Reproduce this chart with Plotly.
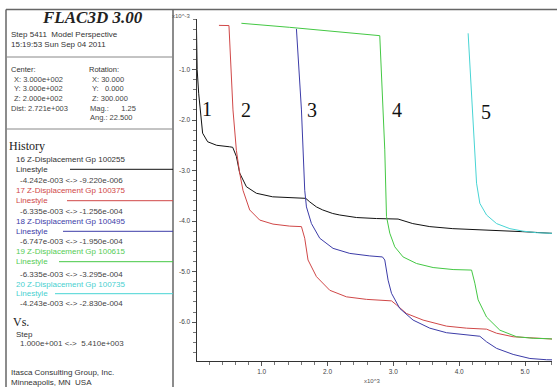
import plotly.graph_objects as go

W, H = 557, 387

# ---------------- data (steps, z-displacement in 1e-3 units) ----------------
gp1_step = [10, 20, 43, 84, 103, 179, 316, 514, 560, 616, 666, 768, 920, 1167, 1426, 1669, 1730,
            1832, 1927, 2079, 2186, 2440, 2744, 2946, 3072, 3295, 3402, 3554, 3903, 4314, 4720,
            4967, 5378, 5410]
gp1_disp = [-0.2, -1.0, -1.47, -2.0, -2.26, -2.43, -2.5, -2.53, -2.54, -2.72, -3.05, -3.32, -3.45,
            -3.52, -3.54, -3.55, -3.62, -3.72, -3.78, -3.85, -3.88, -3.93, -3.95, -3.95, -3.96,
            -4.05, -4.08, -4.11, -4.15, -4.17, -4.19, -4.21, -4.24, -4.242]

gp2_step = [351, 503, 564, 616, 666, 716, 818, 970, 1172, 1426, 1604, 1654, 1704, 1832, 2034, 2288,
            2592, 2794, 2972, 3048, 3200, 3452, 3808, 4112, 4416, 4568, 4820, 5074, 5378, 5410]
gp2_disp = [-0.126, -0.13, -1.8, -2.6, -3.05, -3.39, -3.78, -3.98, -4.06, -4.1, -4.11, -4.34, -4.77,
            -5.1, -5.37, -5.5, -5.55, -5.56, -5.58, -5.66, -5.83, -5.96, -6.08, -6.12, -6.14,
            -6.22, -6.29, -6.31, -6.33, -6.335]

gp3_step = [1528, 1604, 1654, 1680, 1756, 1882, 2084, 2338, 2642, 2835, 2870, 2920, 2972, 3098,
            3300, 3554, 3808, 4112, 4314, 4416, 4568, 4820, 5074, 5328, 5410]
gp3_disp = [-0.195, -1.8, -3.39, -3.72, -4.05, -4.34, -4.54, -4.64, -4.69, -4.71, -4.77, -5.17,
            -5.43, -5.73, -5.96, -6.12, -6.21, -6.26, -6.28, -6.39, -6.52, -6.64, -6.72, -6.745,
            -6.747]

gp4_step = [692, 1426, 2794, 2844, 2870, 2896, 2946, 3022, 3148, 3352, 3604, 3908, 4188, 4238,
            4288, 4416, 4618, 4872, 5124, 5378, 5410]
gp4_disp = [-0.085, -0.165, -0.33, -1.8, -2.59, -3.91, -4.24, -4.51, -4.71, -4.84, -4.92, -4.96,
            -4.97, -5.23, -5.56, -5.9, -6.16, -6.29, -6.32, -6.33, -6.335]

gp5_step = [4136, 4188, 4227, 4264, 4314, 4416, 4568, 4770, 4972, 5175, 5410]
gp5_disp = [-0.283, -1.47, -2.59, -3.25, -3.65, -3.88, -4.05, -4.15, -4.2, -4.23, -4.243]

series_names = ["16 Z-Displacement Gp 100255", "17 Z-Displacement Gp 100375",
                "18 Z-Displacement Gp 100495", "19 Z-Displacement Gp 100615",
                "20 Z-Displacement Gp 100735"]
series_ranges = ["-4.242e-003 <-> -9.220e-006", "-6.335e-003 <-> -1.256e-004",
                 "-6.747e-003 <-> -1.950e-004", "-6.335e-003 <-> -3.295e-004",
                 "-4.243e-003 <-> -2.830e-004"]
series_labels = ["1", "2", "3", "4", "5"]
colors = ["#111111", "#d04848", "#3c3ca8", "#44c844", "#48d4d4"]
text_colors = ["#333333", "#d04848", "#3c3ca8", "#55cc55", "#48d0d0"]

x_tickvals = [1000, 2000, 3000, 4000, 5000]
x_ticktext = ["1.0", "2.0", "3.0", "4.0", "5.0"]
y_tickvals = [-6, -5, -4, -3, -2, -1]
y_ticktext = ["-6.0", "-5.0", "-4.0", "-3.0", "-2.0", "-1.0"]

steps = [gp1_step, gp2_step, gp3_step, gp4_step, gp5_step]
disps = [gp1_disp, gp2_disp, gp3_disp, gp4_disp, gp5_disp]

NB = "\u00a0"


def px(x):
    return x / W


def py(y):
    return 1 - y / H


fig = go.Figure()
for s, d, c, n in zip(steps, disps, colors, series_names):
    fig.add_trace(go.Scatter(x=s, y=d, mode="lines", name=n,
                             line=dict(color=c, width=1), hoverinfo="skip"))

TICKFONT = dict(family="Liberation Sans, Arial, sans-serif", size=6.5, color="#444444")

fig.update_layout(
    width=W, height=H, margin=dict(l=0, r=0, t=0, b=0),
    paper_bgcolor="white", plot_bgcolor="white", showlegend=False,
    xaxis=dict(domain=[px(196.5), px(552)], range=[10, 5410], showgrid=False, zeroline=False,
               showline=True, linecolor="#333333", linewidth=1,
               tickmode="array", tickvals=x_tickvals, ticktext=x_ticktext,
               ticks="outside", ticklen=4, tickcolor="#555555", tickwidth=1,
               minor=dict(tickmode="linear", tick0=0, dtick=200, ticks="outside",
                          ticklen=3, tickcolor="#777777", tickwidth=1, showgrid=False),
               tickfont=TICKFONT),
    yaxis=dict(domain=[py(361), py(19)], range=[-6.77, 0], showgrid=False, zeroline=False,
               showline=True, linecolor="#333333", linewidth=1,
               tickmode="array", tickvals=y_tickvals, ticktext=y_ticktext,
               ticks="outside", ticklen=4, tickcolor="#555555", tickwidth=1,
               minor=dict(tickmode="linear", tick0=0, dtick=0.2, ticks="outside",
                          ticklen=3, tickcolor="#777777", tickwidth=1, showgrid=False),
               tickfont=TICKFONT),
)

shapes = []
# outer frame and divider
shapes.append(dict(type="line", xref="paper", yref="paper", x0=px(6), x1=px(557), y0=py(9.5), y1=py(9.5),
                   line=dict(color="#666666", width=1.5)))
shapes.append(dict(type="line", xref="paper", yref="paper", x0=px(6), x1=px(6), y0=py(9.5), y1=py(390),
                   line=dict(color="#666666", width=1.5)))
shapes.append(dict(type="line", xref="paper", yref="paper", x0=px(173), x1=px(173), y0=py(9.5), y1=py(390),
                   line=dict(color="#666666", width=1.5)))
for yy in [57, 129]:
    shapes.append(dict(type="line", xref="paper", yref="paper", x0=px(6), x1=px(173), y0=py(yy), y1=py(yy),
                       line=dict(color="#888888", width=1)))
# legend line samples
leg_line_y = [169.3, 200.7, 231.3, 261.7, 293.7]
leg_line_x0 = [70, 67, 63, 59, 55]
for yy, x0, c in zip(leg_line_y, leg_line_x0, colors):
    shapes.append(dict(type="line", xref="paper", yref="paper", x0=px(x0), x1=px(173), y0=py(yy), y1=py(yy),
                       line=dict(color=c, width=1)))
fig.update_layout(shapes=shapes)

SANS = "Liberation Sans, Arial, sans-serif"
SERIF = "Liberation Serif, Times New Roman, serif"


def txt(x, y, s, size=8, color="#333333", family=SANS, anchor="left"):
    fig.add_annotation(x=px(x), y=py(y), xref="paper", yref="paper", text=s, showarrow=False,
                       xanchor=anchor, yanchor="middle", borderpad=0,
                       font=dict(family=family, size=size, color=color))


# title block
fig.add_annotation(x=px(92), y=py(18), xref="paper", yref="paper",
                   text="<b><i>FLAC3D 3.00</i></b>", showarrow=False, xanchor="center", yanchor="middle",
                   font=dict(family=SERIF, size=17, color="#222222"))
txt(10, 34, "Step 5411" + NB + " Model Perspective")
txt(10, 44, "15:19:53 Sun Sep 04 2011")
txt(10, 70, "Center:", size=7.5)
txt(13, 79.3, "X: 3.000e+002", size=7.5, color="#444444")
txt(13, 88.7, "Y: 3.000e+002", size=7.5, color="#444444")
txt(13, 98.3, "Z: 2.000e+002", size=7.5, color="#444444")
txt(10, 108.3, "Dist: 2.721e+003", size=7.5, color="#444444")
txt(88, 70, "Rotation:", size=7.5)
txt(91, 79.3, "X: 30.000", size=7.5, color="#444444")
txt(91, 88.7, "Y:" + NB * 3 + "0.000", size=7.5, color="#444444")
txt(91, 98.3, "Z: 300.000", size=7.5, color="#444444")
txt(89, 108.3, "Mag.:" + NB * 6 + "1.25", size=7.5, color="#444444")
txt(89, 117.3, "Ang.: 22.500", size=7.5, color="#444444")

# history block
txt(8, 146, "History", size=12, color="#222222", family=SERIF)
name_y = [159.3, 190.7, 221.7, 251.7, 284.3]
range_y = [180.7, 211, 241.7, 274, 303.3]
for i in range(5):
    txt(15, name_y[i], series_names[i], color=text_colors[i])
    txt(15, leg_line_y[i], "Linestyle", color=text_colors[i])
    txt(19, range_y[i], series_ranges[i], color="#444444")

txt(12, 321.5, "Vs.", size=12, color="#222222", family=SERIF)
txt(15, 334.5, "Step")
txt(19, 343.5, "1.000e+001 <->" + NB + " 5.410e+003", color="#444444")
txt(9.5, 372.7, "Itasca Consulting Group, Inc.")
txt(9.5, 382.3, "Minneapolis, MN" + NB + " USA")

# axis multipliers
txt(180.5, 16, "x10^-3", size=6, color="#555555", anchor="center")
txt(371.5, 380.5, "x10^3", size=6, color="#555555", anchor="center")

# curve number labels
lab_x = [207.3, 246, 311.7, 396.7, 486]
lab_y = [109, 110, 110, 110, 111.7]
for lx, ly, s in zip(lab_x, lab_y, series_labels):
    txt(lx, ly, s, size=20, color="#111111", family=SERIF, anchor="center")

fig.write_html("out.html", config={"displayModeBar": False},
               post_script="document.body.style.margin='0px';document.body.style.overflow='hidden';")
